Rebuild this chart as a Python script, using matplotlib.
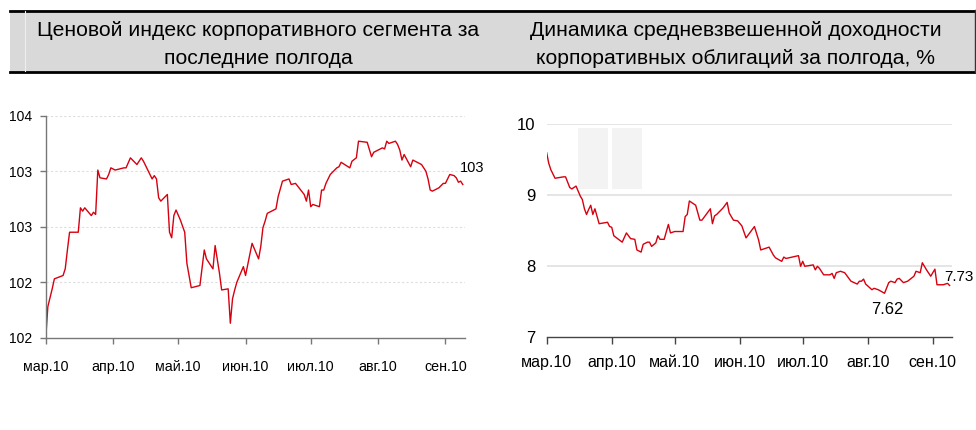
import numpy as np
import pandas as pd
import matplotlib
matplotlib.use("Agg")
import matplotlib.pyplot as plt
from matplotlib.patches import Rectangle

FONT = ['Liberation Sans', 'DejaVu Sans']

# --- data (day offsets from 2010-03-01) ---
idx_days = [0, 1, 3, 4, 8, 9, 10, 11, 15, 16, 17, 18, 21, 22, 23, 24, 25, 28, 29, 30,
            32, 36, 37, 39, 42, 44, 45, 49, 50, 51, 52, 53, 56, 57, 58, 59, 60, 62, 64, 65,
            67, 71, 73, 74, 77, 78, 80, 81, 84, 85, 86, 87, 88, 91, 92, 95, 98, 99, 100, 101,
            102, 106, 107, 109, 112, 113, 115, 119, 120, 121, 122, 123, 126, 127, 128, 129, 131, 134, 135, 136,
            140, 141, 143, 144, 148, 150, 151, 154, 155, 156, 157, 158, 161, 162, 163, 164, 165, 168, 169, 170,
            173, 175, 176, 177, 178, 181, 183, 184, 186, 188, 189, 190, 191, 192]
idx_values = [101.49, 101.78, 101.94, 102.03, 102.06, 102.12, 102.29, 102.45, 102.45, 102.67,
              102.64, 102.67, 102.60, 102.63, 102.61, 103.01, 102.94, 102.93, 102.97, 103.03,
              103.01, 103.03, 103.03, 103.12, 103.06, 103.12, 103.09, 102.93, 102.96, 102.93,
              102.76, 102.73, 102.79, 102.45, 102.40, 102.60, 102.65, 102.56, 102.45, 102.17,
              101.95, 101.97, 102.29, 102.21, 102.12, 102.33, 102.08, 101.93, 101.94, 101.63,
              101.85, 101.93, 102.00, 102.14, 102.06, 102.35, 102.21, 102.32, 102.49, 102.55,
              102.62, 102.66, 102.77, 102.91, 102.93, 102.88, 102.89, 102.79, 102.73, 102.83,
              102.68, 102.70, 102.68, 102.83, 102.83, 102.89, 102.97, 103.03, 103.04, 103.08,
              103.03, 103.09, 103.12, 103.27, 103.26, 103.13, 103.17, 103.20, 103.21, 103.20,
              103.27, 103.25, 103.27, 103.24, 103.19, 103.10, 103.15, 103.04, 103.10, 103.09,
              103.06, 103.00, 102.93, 102.83, 102.82, 102.85, 102.89, 102.89, 102.97, 102.96,
              102.94, 102.90, 102.91, 102.88]

yld_days = [0, 1, 2, 4, 8, 9, 11, 12, 14, 16, 17, 18, 19, 20, 21, 22, 23, 25, 29, 30,
            31, 32, 36, 38, 40, 42, 43, 45, 46, 48, 49, 50, 52, 53, 54, 56, 58, 59, 61, 65,
            66, 67, 68, 71, 73, 74, 78, 79, 80, 81, 82, 84, 86, 87, 89, 91, 93, 95, 99, 101,
            102, 106, 108, 109, 112, 113, 114, 120, 121, 122, 123, 127, 128, 129, 130, 132, 135, 136, 137, 138,
            140, 142, 145, 148, 149, 150, 151, 152, 155, 156, 158, 161, 163, 164, 166, 167, 168, 170, 172, 175,
            176, 178, 179, 181, 183, 185, 186, 189, 191, 192]
yld_values = [9.60, 9.45, 9.36, 9.24, 9.26, 9.26, 9.11, 9.09, 9.13, 8.99,
              8.94, 8.81, 8.73, 8.80, 8.86, 8.73, 8.81, 8.60, 8.62, 8.56,
              8.55, 8.43, 8.34, 8.47, 8.39, 8.38, 8.23, 8.20, 8.31, 8.34,
              8.34, 8.28, 8.33, 8.43, 8.38, 8.38, 8.59, 8.47, 8.49, 8.49,
              8.70, 8.73, 8.92, 8.86, 8.65, 8.65, 8.81, 8.60, 8.71, 8.73,
              8.76, 8.82, 8.90, 8.75, 8.65, 8.64, 8.57, 8.40, 8.56, 8.37,
              8.23, 8.27, 8.16, 8.12, 8.07, 8.13, 8.11, 8.15, 8.00, 8.07,
              8.00, 8.02, 7.95, 8.00, 7.97, 7.88, 7.88, 7.90, 7.83, 7.91,
              7.93, 7.91, 7.79, 7.75, 7.79, 7.79, 7.82, 7.75, 7.67, 7.69,
              7.67, 7.62, 7.77, 7.79, 7.77, 7.82, 7.83, 7.77, 7.79, 7.86,
              7.93, 7.91, 8.05, 7.95, 7.86, 7.96, 7.74, 7.74, 7.76, 7.73]

month_labels = ['мар.10', 'апр.10', 'май.10', 'июн.10', 'июл.10', 'авг.10', 'сен.10']
idx_yticks = [101.5, 102.0, 102.5, 103.0, 103.5]
idx_ylabels = ['102', '102', '103', '103', '104']
yld_yticks = [7, 8, 9, 10]

title_left = 'Ценовой индекс корпоративного сегмента за\nпоследние полгода'
title_right = 'Динамика средневзвешенной доходности\nкорпоративных облигаций за полгода, %'

start = pd.Timestamp('2010-03-01')
idx_dates = start + pd.to_timedelta(idx_days, unit='D')
yld_dates = start + pd.to_timedelta(yld_days, unit='D')
months = pd.date_range(start, periods=7, freq='MS')
x_end = pd.Timestamp('2010-09-10')

RED = '#d7000f'

fig = plt.figure(figsize=(9.76, 4.3), dpi=100)

# background / header layer in pixel coordinates
bg = fig.add_axes([0, 0, 1, 1], zorder=0)
bg.set_xlim(0, 976)
bg.set_ylim(430, 0)
bg.axis('off')
bg.add_patch(Rectangle((10, 10), 965, 62, facecolor='#d9d9d9', edgecolor='none'))
bg.plot([10, 975], [10.5, 10.5], color='black', lw=2)
bg.plot([10, 975], [72, 72], color='black', lw=2)
bg.plot([974.5, 974.5], [10, 72], color='#333333', lw=1)
bg.plot([25, 25], [11, 71], color='#eeeeee', lw=0.8)
bg.text(258, 44.5, title_left, ha='center', va='center', fontsize=15.2,
        family=FONT, linespacing=1.6, color='black')
bg.text(736, 44.5, title_right, ha='center', va='center', fontsize=15.2,
        family=FONT, linespacing=1.6, color='black')
# faint logo watermark behind the right chart
bg.add_patch(Rectangle((578, 128), 30, 61, facecolor='#f3f3f3', edgecolor='none'))
bg.add_patch(Rectangle((612, 128), 30, 61, facecolor='#f3f3f3', edgecolor='none'))

# --- left chart: price index ---
ax1 = fig.add_axes([0.0468, 0.2147, 0.4296, 0.5163], zorder=1)
ax1.patch.set_alpha(0)
ax1.plot(idx_dates, idx_values, color=RED, lw=1.0)
ax1.set_xlim(start, x_end)
ax1.set_ylim(101.5, 103.5)
ax1.set_yticks(idx_yticks)
ax1.set_yticklabels(idx_ylabels, family=FONT, fontsize=10)
ax1.set_xticks(months)
ax1.set_xticklabels(month_labels, family=FONT, fontsize=10.3)
for y in idx_yticks[1:]:
    ax1.axhline(y, color='#dddddd', lw=0.8, ls=(0, (2, 2)), zorder=0)
for s in ['top', 'right']:
    ax1.spines[s].set_visible(False)
for s in ['left', 'bottom']:
    ax1.spines[s].set_color('#777777')
    ax1.spines[s].set_linewidth(1.0)
ax1.tick_params(axis='both', direction='out', length=4, color='#777777', width=1.0)
ax1.tick_params(axis='x', pad=12)
ax1.tick_params(axis='y', pad=6)
ax1.annotate(f'{idx_values[-1]:.0f}',
             xy=(idx_dates[-1], idx_values[-1]), xytext=(-2, 7),
             textcoords='offset points', family=FONT, fontsize=10.5,
             ha='left', va='bottom', annotation_clip=False)

# --- right chart: yield ---
ax2 = fig.add_axes([0.5601, 0.2156, 0.4150, 0.4953], zorder=1)
ax2.patch.set_alpha(0)
ax2.plot(yld_dates, yld_values, color=RED, lw=1.0)
ax2.set_xlim(start, x_end)
ax2.set_ylim(7, 10)
ax2.set_yticks(yld_yticks)
ax2.set_yticklabels([str(v) for v in yld_yticks], family=FONT, fontsize=12)
ax2.set_xticks(months)
ax2.set_xticklabels(month_labels, family=FONT, fontsize=11.5)
for y in yld_yticks[1:]:
    ax2.axhline(y, color='#e3e3e3', lw=1.3, zorder=0)
for s in ['top', 'right', 'left']:
    ax2.spines[s].set_visible(False)
ax2.spines['bottom'].set_color('#444444')
ax2.spines['bottom'].set_linewidth(1.0)
ax2.tick_params(axis='y', length=0, pad=8)
ax2.tick_params(axis='x', direction='out', length=5, color='#444444', width=1.0, pad=8)

i_min = int(np.argmin(yld_values))
ax2.annotate(f'{yld_values[i_min]:.2f}', xy=(yld_dates[i_min], yld_values[i_min]),
             xytext=(-10, -6), textcoords='offset points', family=FONT, fontsize=12,
             ha='left', va='top')
ax2.annotate(f'{yld_values[-1]:.2f}', xy=(yld_dates[-1], yld_values[-1]),
             xytext=(-4, 1), textcoords='offset points', family=FONT, fontsize=11,
             ha='left', va='bottom', annotation_clip=False)

fig.savefig('out.png', dpi=100)
